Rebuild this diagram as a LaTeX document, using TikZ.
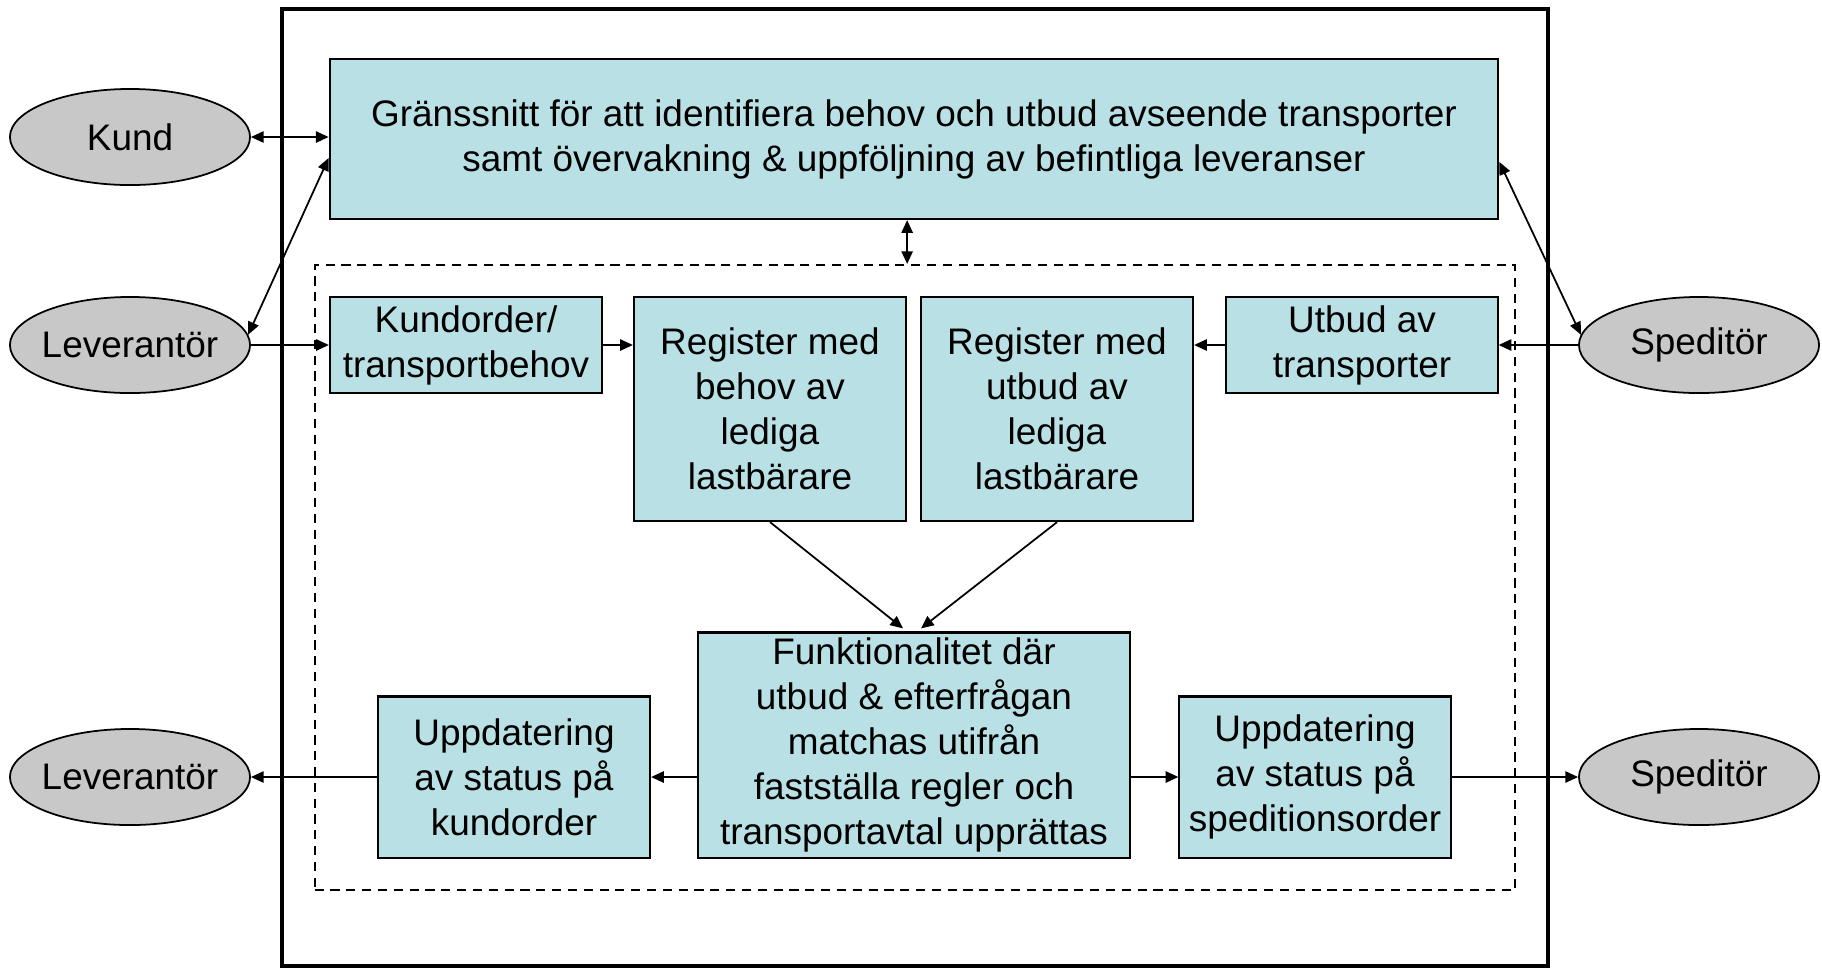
\documentclass[tikz,border=0pt]{standalone}
\usepackage{fontspec}
\setmainfont{Liberation Sans}
\usetikzlibrary{arrows.meta, shapes.geometric, calc}
\definecolor{boxfill}{RGB}{185,224,228}
\definecolor{actorfill}{RGB}{200,200,200}

\begin{document}
\begin{tikzpicture}[x=0.01cm, y=-0.01cm, line width=0.5pt, >={Triangle[length=3.6pt,width=3.2pt]},
				every node/.style={font=\fontsize{10.5}{12.8}\selectfont},
				box/.style={draw, fill=boxfill, align=center, inner sep=0pt, line width=0.6pt},
				actor/.style={draw, fill=actorfill, ellipse, minimum width=2.4cm, minimum height=0.96cm, inner xsep=-0.4cm, inner ysep=-0.1cm}]
				\useasboundingbox (0,0) rectangle (1822,969);

				\draw[line width=1.4pt] (282,9) rectangle (1548,966);
				\node[draw, dashed, dash pattern=on 2.6pt off 1.9pt, minimum width=12cm, minimum height=6.25cm, inner sep=0pt] (core) at (915,577.5) {};

				\node[box, minimum width=11.68cm, minimum height=1.6cm] (gui) at (914,139)
				{Gränssnitt för att identifiera behov och utbud avseende transporter\\samt övervakning \& uppföljning av befintliga leveranser};

				\node[box, minimum width=2.72cm, minimum height=0.96cm] (ko) at (466,345) {Kundorder/\\transportbehov};
				\node[box, minimum width=2.72cm, minimum height=2.24cm] (regb) at (770,409) {Register med\\behov av\\lediga\\lastbärare};
				\node[box, minimum width=2.72cm, minimum height=2.24cm] (regu) at (1057,409) {Register med\\utbud av\\lediga\\lastbärare};
				\node[box, minimum width=2.71cm, minimum height=0.96cm] (utb) at (1362,345) {Utbud av\\transporter};

				\node[box, minimum width=4.31cm, minimum height=2.25cm] (func) at (914,745)
				{Funktionalitet där\\utbud \& efterfrågan\\matchas utifrån\\fastställa regler och\\transportavtal upprättas};
				\node[box, minimum width=2.72cm, minimum height=1.61cm] (uk) at (514,777) {Uppdatering\\av status på\\kundorder};
				\node[box, minimum width=2.71cm, minimum height=1.61cm] (us) at (1315,777) {Uppdatering\\av status på\\speditionsorder};

				\node[actor] (kund) at (130,137) {Kund};
				\node[actor] (lev1) at (130,345) {Leverantör};
				\node[actor] (lev2) at (130,777) {Leverantör};
				\node[actor] (sped1) at (1699,345) {Speditör};
				\node[actor] (sped2) at (1699,777) {Speditör};

				\draw[<->] (kund.east) -- (kund.east -| gui.west);
				\draw[<->] (lev1.5) -- ($(gui.west)+(0,19)$);
				\draw[<->] (sped1.175) -- ($(gui.east)+(0,23)$);
				\draw[<->] (gui.south -| regb.east) -- (core.north -| regb.east);

				\draw[->] (lev1.east) -- (ko.west);
				\draw[->] (ko.east) -- (ko.east -| regb.west);
				\draw[->] (sped1.west) -- (utb.east);
				\draw[->] (utb.west) -- (utb.west -| regu.east);

				\draw[->] (regb.south) -- ($(func.north)+(-11,-3)$);
				\draw[->] (regu.south) -- ($(func.north)+(7,-3)$);

				\draw[->] (uk.east -| func.west) -- (uk.east);
				\draw[->] (uk.west) -- (lev2.east);
				\draw[->] (us.west -| func.east) -- (us.west);
				\draw[->] (us.east) -- (sped2.west);
			\end{tikzpicture}
\end{document}
